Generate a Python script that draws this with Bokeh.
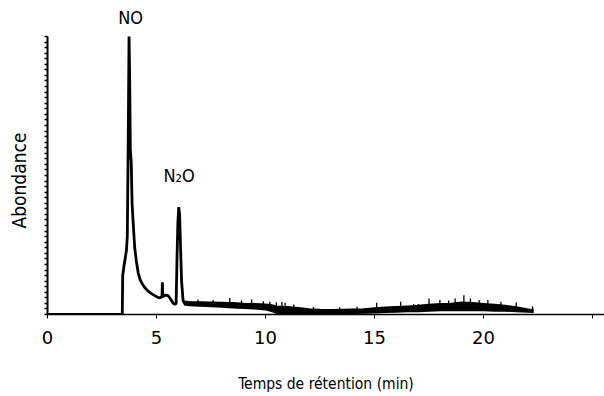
from bokeh.plotting import figure
from bokeh.models import Range1d, FixedTicker, Label, Title
from bokeh.embed import file_html
from bokeh.resources import INLINE

# ---- data (abundance in % of the NO peak) ----
trace_t = [0.0, 3.43, 3.45, 3.50, 3.56, 3.62, 3.66, 3.70, 3.74, 3.77, 3.80, 3.84, 3.88, 3.93,
           4.00, 4.08, 4.16, 4.25, 4.35, 4.46, 4.60, 4.75, 4.92, 5.05, 5.15, 5.25, 5.27, 5.29,
           5.40, 5.53, 5.65, 5.75, 5.84, 5.90, 5.94, 5.98, 6.02, 6.06, 6.10, 6.15, 6.22, 6.28]
trace_y = [0.0, 0.0, 14.0, 17.0, 20.0, 23.0, 28.0, 60.0, 100.0, 85.0, 59.0, 55.0, 40.0, 33.0,
           24.0, 19.0, 15.0, 12.5, 11.0, 9.7, 8.5, 7.6, 6.8, 6.2, 6.0, 6.4, 11.6, 6.5,
           7.0, 6.8, 5.5, 4.2, 3.6, 4.0, 20.0, 33.0, 38.6, 36.0, 25.0, 12.0, 5.0, 4.0]

# noisy baseline envelope after the N2O peak
env_t = [6.25, 6.5, 7.0, 7.5, 8.0, 8.5, 9.0, 9.5, 10.0, 10.3, 10.5, 11.0, 11.5, 12.0, 12.5,
         13.0, 13.5, 14.0, 14.5, 15.0, 15.5, 16.0, 16.5, 17.0, 17.5, 18.0, 18.5, 19.0, 19.5,
         20.0, 20.5, 21.0, 21.5, 22.0, 22.3]
env_lo = [3.2, 3.0, 2.8, 2.6, 2.4, 2.2, 2.0, 1.8, 1.4, 0.8, 0.2, 0.2, 0.2, 0.2, 0.2,
          0.2, 0.2, 0.2, 0.3, 0.4, 0.5, 0.6, 0.8, 0.8, 1.0, 1.2, 1.2, 1.2, 1.2,
          1.2, 1.0, 1.0, 0.8, 0.6, 0.5]
env_hi = [4.8, 4.6, 4.5, 4.4, 4.3, 4.2, 4.0, 3.9, 3.7, 3.4, 3.0, 2.8, 2.4, 2.0, 1.8,
          1.7, 1.8, 1.9, 2.0, 2.3, 2.6, 2.8, 3.0, 3.2, 3.6, 3.9, 4.0, 4.4, 4.2,
          3.9, 3.6, 3.2, 2.7, 2.0, 1.6]

# isolated noise spikes
spike_t = [6.9, 7.6, 8.36, 8.9, 9.36, 9.9, 10.2, 10.5, 10.75, 10.9, 11.3, 12.2, 13.4, 14.2,
           15.1, 16.2, 16.8, 17.0, 17.5, 18.0, 18.4, 18.7, 19.1, 19.4, 19.8, 20.2, 20.8, 21.5, 22.25]
spike_top = [5.4, 5.2, 5.9, 5.0, 5.4, 4.8, 4.6, 4.4, 4.5, 4.2, 3.6, 2.8, 2.6, 2.8,
             4.2, 4.6, 3.8, 3.8, 5.8, 5.2, 5.0, 5.8, 6.9, 5.8, 5.2, 5.2, 4.6, 4.3, 3.0]
spike_base = [3.0, 3.0, 3.0, 3.0, 3.0, 2.8, 2.5, 2.0, 2.0, 2.0, 1.5, 1.0, 1.0, 1.0,
              1.5, 2.0, 2.0, 2.0, 2.5, 2.5, 2.5, 2.5, 2.5, 2.5, 2.5, 2.5, 2.5, 2.0, 1.0]

x_ticks = [0, 5, 10, 15, 20, 25]
y_minor = list(range(0, 101, 2))

FONT = "DejaVu Sans Condensed"

p = figure(width=604, height=396, output_backend="svg", toolbar_location=None,
           x_range=Range1d(0, 25.55), y_range=Range1d(0, 112.95),
           min_border_left=47, min_border_right=0, min_border_top=0, min_border_bottom=82)
p.outline_line_color = None
p.grid.visible = False
p.background_fill_color = "white"
p.border_fill_color = "white"

# trace
p.varea(x=env_t, y1=env_lo, y2=env_hi, fill_color="black")
p.line(env_t, env_hi, line_color="black", line_width=1.5)
p.segment(x0=spike_t, y0=spike_base, x1=spike_t, y1=spike_top, line_color="black", line_width=1.3)
p.line(trace_t, trace_y, line_color="black", line_width=2.8)

# axes
xa = p.xaxis[0]
xa.ticker = FixedTicker(ticks=x_ticks)
xa.major_label_overrides = {25: ""}
xa.bounds = (0, 25.55)
xa.axis_line_width = 1.6
xa.axis_line_color = "black"
xa.major_tick_line_color = "black"
xa.major_tick_in = 0
xa.major_tick_out = 4
xa.minor_tick_line_color = None
xa.major_label_text_font = "DejaVu Sans"
xa.major_label_text_font_size = "18px"
xa.major_label_text_color = "black"
xa.major_label_standoff = 12
xa.axis_label = "Temps de rétention (min)"
xa.axis_label_text_font = FONT
xa.axis_label_text_font_size = "15.5px"
xa.axis_label_text_font_style = "normal"
xa.axis_label_text_color = "black"
xa.axis_label_standoff = 28

ya = p.yaxis[0]
ya.ticker = FixedTicker(ticks=[], minor_ticks=y_minor)
ya.bounds = (0, 100)
ya.axis_line_width = 2
ya.axis_line_color = "black"
ya.minor_tick_line_color = "black"
ya.minor_tick_line_width = 1.3
ya.minor_tick_in = 0
ya.minor_tick_out = 3
ya.major_tick_line_color = None
# blank, tiny axis label: only adds spacing between the axis and the side title
ya.axis_label = " "
ya.axis_label_text_font_size = "1px"
ya.axis_label_standoff = 9

# y axis title, placed as a side title so it can sit lower than the frame centre
ytitle = Title(text="Abondance", align="left", offset=86, standoff=4,
               text_font=FONT, text_font_size="19px", text_font_style="normal",
               text_color="black")
p.add_layout(ytitle, "left")

# peak labels
p.add_layout(Label(x=3.81, y=106.8, text="NO", text_align="center", text_baseline="alphabetic",
                   text_font=FONT, text_font_size="18px", text_color="black"))
p.add_layout(Label(x=5.32, y=50.0, text="N₂O", text_align="left", text_baseline="alphabetic",
                   text_font=FONT, text_font_size="18px", text_color="black"))

open("out.html", "w").write(file_html(p, INLINE))
